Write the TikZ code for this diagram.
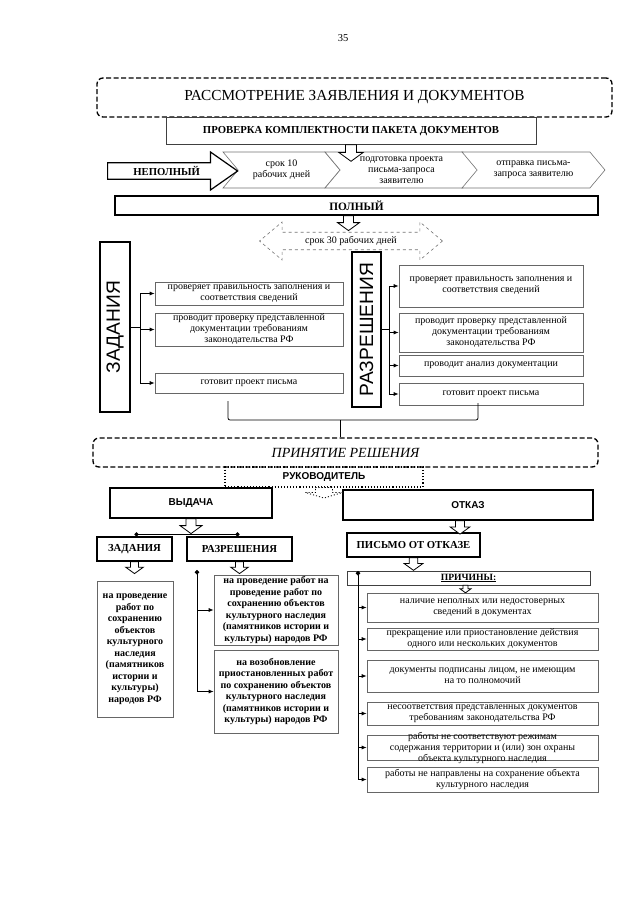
\documentclass[tikz,border=0pt]{standalone}
\usepackage{fontspec}
\setmainfont{Liberation Serif}
\setsansfont{Liberation Sans}
\usetikzlibrary{positioning,calc,arrows.meta,shapes.arrows,shapes.symbols}

\tikzset{
  stage/.style={draw, rounded corners=6pt, line width=1.3pt, dash pattern=on 5pt off 2.5pt},
  heavy/.style={draw, line width=1.2pt, fill=white, inner sep=1pt, font=\fontsize{10.7}{12}\selectfont\bfseries},
  heavysans/.style={heavy, font=\sffamily\fontsize{10}{12}\selectfont\bfseries},
  item/.style={draw=black!60, line width=0.6pt, fill=white, align=center, inner sep=1pt, font=\fontsize{10}{11}\selectfont},
  itembold/.style={item, font=\fontsize{10}{11.5}\selectfont\bfseries},
  chevron/.style={signal, signal to=east, signal from=west, signal pointer angle=100, draw=black!55, line width=0.6pt, fill=white, align=center, inner sep=1pt, minimum height=36pt, font=\fontsize{10}{11}\selectfont},
  vlabel/.style={heavy, rotate=90, font=\sffamily\fontsize{19.2}{20}\selectfont},
  feed/.style={-{Latex[length=5pt,width=4pt]}, line width=0.8pt},
  dotstart/.style={{Circle[length=4.5pt]}-, line width=0.8pt},
  blockdown/.pic={\draw[fill=white, line width=0.8pt] (-5,0) -- (5,0) -- (5,7) -- (11,7) -- (0,15) -- (-11,7) -- (-5,7) -- cycle;}
}

\begin{document}
\begin{tikzpicture}[x=1pt, y=-1pt]
\useasboundingbox (0,0) rectangle (640,905);

\node[font=\fontsize{10.5}{12}\selectfont] (page) at (343,38) {35};

% рассмотрение заявления
\node[stage, minimum width=515pt, minimum height=39pt, font=\fontsize{15.3}{17}\selectfont] (review) at (354.5,97.5) {РАССМОТРЕНИЕ ЗАЯВЛЕНИЯ И ДОКУМЕНТОВ};
\node[item, draw=black!75, minimum width=370pt, minimum height=27pt, font=\fontsize{10.7}{12}\selectfont\bfseries] (check) at (351,131) {ПРОВЕРКА КОМПЛЕКТНОСТИ ПАКЕТА ДОКУМЕНТОВ};

% неполный пакет
\node[chevron, minimum width=117pt] (term10) at (281.5,170) {срок 10\\рабочих дней};
\node[chevron, minimum width=153pt] (draft) at (401.5,170) {подготовка проекта\\письма-запроса\\заявителю};
\node[chevron, minimum width=143pt] (send) at (533.5,170) {отправка письма-\\запроса заявителю};
\node[heavy, single arrow, single arrow head extend=8pt, single arrow tip angle=70, minimum height=130pt, minimum width=38pt, anchor=tail] (partial) at (107,171) {НЕПОЛНЫЙ};
\pic[scale=1.1] at (check.south) {blockdown};

% полный пакет
\node[heavy, minimum width=483pt, minimum height=19pt, font=\fontsize{11.3}{12}\selectfont\bfseries] (full) at (356.5,205.5) {ПОЛНЫЙ};
\node[double arrow, draw=black!55, dashed, line width=0.6pt, double arrow head extend=7pt, double arrow tip angle=80, minimum height=183pt, minimum width=38pt, inner sep=1pt, font=\fontsize{10}{11}\selectfont] (term30) at (351,241) {срок 30 рабочих дней};
\pic at ([xshift=-8pt]full.south) {blockdown};

\node[vlabel, minimum width=170pt, minimum height=30pt] (tasks) at (115,327) {ЗАДАНИЯ};
\node[vlabel, minimum width=155pt, minimum height=29pt] (permits) at (366.5,329.5) {РАЗРЕШЕНИЯ};

\node[item, minimum width=188pt, minimum height=23pt] (t1) at (249,293.5) {проверяет правильность заполнения и\\соответствия сведений};
\node[item, minimum width=188pt, minimum height=33pt] (t2) at (249,329.5) {проводит проверку представленной\\документации требованиям\\законодательства РФ};
\node[item, minimum width=188pt, minimum height=20pt] (t3) at (249,383) {готовит проект письма};

\node[item, minimum width=184pt, minimum height=42pt] (p1) at (491,286) {проверяет правильность заполнения и\\соответствия сведений};
\node[item, minimum width=184pt, minimum height=39pt] (p2) at (491,332.5) {проводит проверку представленной\\документации требованиям\\законодательства РФ};
\node[item, minimum width=184pt, minimum height=21pt] (p3) at (491,365.5) {проводит анализ документации};
\node[item, minimum width=184pt, minimum height=22pt] (p4) at (491,394) {готовит проект письма};

\coordinate (tbus) at (140,327);
\draw[line width=0.8pt] (tasks.south) -- (tbus) (tbus |- t1.west) -- (tbus |- t3.west);
\foreach \n in {t1,t2,t3}
  \draw[feed] (tbus |- \n.west) -- (\n.west);
\coordinate (pbus) at (389,329.5);
\draw[line width=0.8pt] (permits.south) -- (pbus) (pbus |- p1.west) -- (pbus |- p4.west);
\foreach \n in {p1,p2,p3,p4}
  \draw[feed] (pbus |- \n.west) -- (\n.west);

% принятие решения
\node[stage, minimum width=505pt, minimum height=29pt, font=\itshape\fontsize{14}{16}\selectfont] (decision) at (345.5,452.5) {ПРИНЯТИЕ РЕШЕНИЯ};
\coordinate (braceL) at (228,401);
\coordinate (braceR) at (478,403);
\coordinate (braceM) at (340,420);
\draw[line width=0.8pt, rounded corners=2pt] (braceL) |- (braceM) -| (braceR);
\draw[line width=0.8pt] (braceM) -- (braceM |- decision.north);

\node[draw, dotted, line width=1.1pt, minimum width=198pt, minimum height=20pt, inner sep=1pt, font=\sffamily\bfseries\fontsize{10}{12}\selectfont] (head) at (324,477) {РУКОВОДИТЕЛЬ};
\node[heavysans, minimum width=162pt, minimum height=30pt] (grant) at (191,503) {ВЫДАЧА};
\node[heavysans, minimum width=250pt, minimum height=30pt] (refuse) at (468,505) {ОТКАЗ};
\pic[dotted, line width=1.1pt, xscale=1.7, yscale=0.7] at (head.south) {blockdown};

% выдача
\node[heavy, minimum width=75pt, minimum height=24pt] (tasks2) at (134.5,549) {ЗАДАНИЯ};
\node[heavy, minimum width=105pt, minimum height=24pt] (permits2) at (239.5,549) {РАЗРЕШЕНИЯ};
\draw[{Circle[length=4pt]}-{Circle[length=4pt]}, line width=0.8pt] ([yshift=2pt]tasks2.north) -- ([yshift=2pt]permits2.north);
\pic at (grant.south) {blockdown};

\node[itembold, minimum width=76pt, minimum height=136pt] (taskwork) at (135,649) {на проведение\\работ по\\сохранению\\объектов\\культурного\\наследия\\(памятников\\истории и\\культуры)\\народов РФ};
\node[itembold, minimum width=124pt, minimum height=70pt] (permwork) at (276,610) {на проведение работ на\\проведение работ по\\сохранению объектов\\культурного наследия\\(памятников истории и\\культуры) народов РФ};
\node[itembold, minimum width=124pt, minimum height=83pt] (permresume) at (276,691.5) {на возобновление\\приостановленных работ\\по сохранению объектов\\культурного наследия\\(памятников истории и\\культуры) народов РФ};
\pic[scale=0.8] at (tasks2.south) {blockdown};
\pic[scale=0.8] at (permits2.south) {blockdown};

\coordinate (wbus) at (197,570);
\draw[dotstart] (wbus) -- (wbus |- permresume.west);
\foreach \n in {permwork,permresume}
  \draw[feed] (wbus |- \n.west) -- (\n.west);

% отказ
\node[heavy, minimum width=133pt, minimum height=24pt] (letter) at (413.5,545) {ПИСЬМО ОТ ОТКАЗЕ};
\node[item, draw=black!75, minimum width=243pt, minimum height=14pt, inner ysep=0pt, font=\bfseries\fontsize{9.6}{11}\selectfont] (reasons) at (468.5,578) {\underline{ПРИЧИНЫ:}};
\pic[scale=0.9] at ([xshift=-8pt]refuse.south) {blockdown};
\pic[scale=0.85] at (letter.south) {blockdown};
\pic[scale=0.5] at ([xshift=-3pt]reasons.south) {blockdown};

\node[item, minimum width=231pt, minimum height=29pt] (why1) at (482.5,607.5) {наличие неполных или недостоверных\\сведений в документах};
\node[item, minimum width=231pt, minimum height=22pt] (why2) at (482.5,639) {прекращение или приостановление действия\\одного или нескольких документов};
\node[item, minimum width=231pt, minimum height=32pt] (why3) at (482.5,676) {документы подписаны лицом, не имеющим\\на то полномочий};
\node[item, minimum width=231pt, minimum height=23pt] (why4) at (482.5,713.5) {несоответствия представленных документов\\требованиям законодательства РФ};
\node[item, minimum width=231pt, minimum height=25pt, inner ysep=-4pt] (why5) at (482.5,747.5) {работы не соответствуют режимам\\содержания территории и (или) зон охраны\\объекта культурного наследия};
\node[item, minimum width=231pt, minimum height=25pt] (why6) at (482.5,779.5) {работы не направлены на сохранение объекта\\культурного наследия};

\coordinate (rbus) at (358,571);
\draw[dotstart] (rbus) -- (rbus |- why6.west);
\foreach \n in {why1,why2,why3,why4,why5,why6}
  \draw[feed] (rbus |- \n.west) -- (\n.west);
\end{tikzpicture}
\end{document}
